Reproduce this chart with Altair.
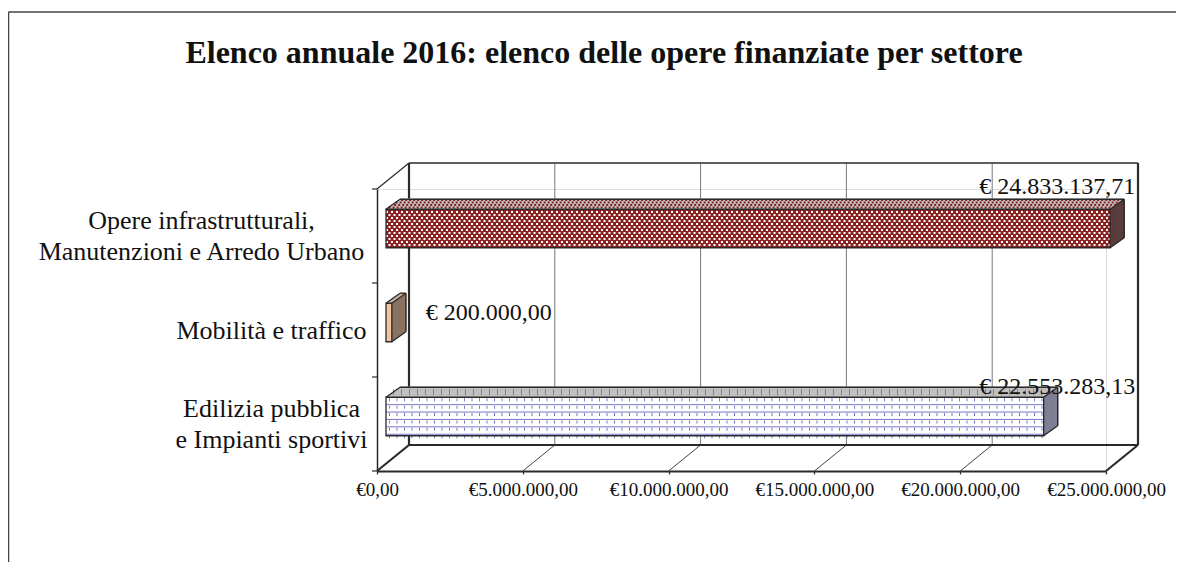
import json
import altair as alt
import pandas as pd

# ---------------- data ----------------
title_text = "Elenco annuale 2016: elenco delle opere finanziate per settore"
categories = [
    "Opere infrastrutturali,\nManutenzioni e Arredo Urbano",
    "Mobilità e traffico",
    "Edilizia pubblica\ne Impianti sportivi",
]
values = [24833137.71, 200000.00, 22553283.13]
value_labels = ["€ 24.833.137,71", "€ 200.000,00", "€ 22.553.283,13"]
tick_values = [0, 5000000, 10000000, 15000000, 20000000, 25000000]
tick_labels = ["€0,00", "€5.000.000,00", "€10.000.000,00",
               "€15.000.000,00", "€20.000.000,00", "€25.000.000,00"]

df = pd.DataFrame({
    "idx": list(range(len(categories))),
    "cat": categories,
    "value": values,
    "label": value_labels,
})
df["zero"] = 0.0
ticks_df = pd.DataFrame({"t": tick_values})
one_df = pd.DataFrame({"title": [title_text]})
bounds_df = pd.DataFrame({"idx": [i - 0.5 for i in range(len(categories) + 1)]})

# ---------------- styles / geometry (pixels) ----------------
FONT = "Liberation Serif"
W, H = 729, 282
BX, BY = 32, -26            # depth of the 3D box
FX, FYC, FH = 9, -7.5, 38.5 # bar front face offset / centre / thickness
TOP, BOT = FYC - FH / 2, FYC + FH / 2
DX, DY = 14, -10            # depth of each bar
N = 16
EDGE = "#2a2a2a"
front_fill = ["#8b2323", "#f4c3a0", "#ffffff"]
side_fill = ["#5a3c3c", "#8a7262", "#7e7e94"]
top_fill = ["#c0c0c0", "#c8b4a4", "#c0c0c0"]
PURPLE = "#7878c8"
LINE_H = 31

XS = alt.Scale(domain=[0, tick_values[-1]], nice=False, zero=False)
YS = alt.Scale(domain=[-0.5, len(categories) - 0.5], reverse=True, nice=False, zero=False)

X_AXIS = alt.Axis(
    values=tick_values,
    labelExpr=f"{json.dumps(tick_labels, ensure_ascii=False)}[indexof({json.dumps(tick_values)}, datum.value)]",
    grid=False, title=None, domainColor=EDGE, domainWidth=2.2, tickColor=EDGE, tickSize=3, tickWidth=1.2,
    labelFont=FONT, labelFontSize=19, labelColor="#111", labelPadding=6, labelFlush=False, labelOverlap=False,
)
y_lines = [c.split("\n") for c in categories]
multi_idx = [i for i, ln in enumerate(y_lines) if len(ln) > 1]
multi_test = " || ".join(f"datum.value == {i}" for i in multi_idx)
Y_AXIS = alt.Axis(
    values=list(range(len(categories))),
    labelExpr=f"{json.dumps(y_lines, ensure_ascii=False)}[datum.value]",
    grid=False, title=None, ticks=False, tickSize=0, domainColor=EDGE, domainWidth=1.5,
    labelFont=FONT, labelFontSize=26, labelColor="#111", labelAlign="center", labelBaseline="middle",
    labelLineHeight=LINE_H, labelLimit=500, labelOverlap=False,
    labelPadding={"condition": {"test": "datum.value == 0", "value": 176}, "value": 106},
    labelOffset={"condition": {"test": multi_test, "value": -LINE_H / 2}, "value": 0},
)


def xq(f):
    return alt.X(f"{f}:Q", scale=XS, axis=X_AXIS)


def yq():
    return alt.Y("idx:Q", scale=YS, axis=Y_AXIS)


def idx_color(rng):
    return alt.Color("idx:N", scale=alt.Scale(domain=list(range(len(categories))), range=rng), legend=None)


L = []

# ---------- outer frame ----------
L.append(alt.Chart(one_df).mark_rule(color="#444", strokeWidth=1.5).encode(
    x=alt.value(-368.5), y=alt.value(-177), y2=alt.value(400)))
L.append(alt.Chart(one_df).mark_rule(color="#444", strokeWidth=1.5).encode(
    x=alt.value(-368.5), x2=alt.value(W + 100), y=alt.value(-177)))

# ---------- title ----------
L.append(alt.Chart(one_df).mark_text(
    font=FONT, fontSize=32, fontWeight="bold", color="#111", align="center", baseline="alphabetic"
).encode(x=alt.value(227), y=alt.value(-126), text="title:N"))

# ---------- back wall & floor ----------
inner = f"datum.t > 0 && datum.t < {tick_values[-1]}"
outer = f"datum.t == 0 || datum.t == {tick_values[-1]}"
L.append(alt.Chart(ticks_df).transform_filter(inner).mark_rule(
    color="#777", strokeWidth=1, xOffset=BX).encode(x=xq("t"), y=alt.value(BY), y2=alt.value(H + BY)))
L.append(alt.Chart(ticks_df).transform_filter(inner).mark_rule(
    color="#444", strokeWidth=1, x2Offset=BX).encode(x=xq("t"), x2="t", y=alt.value(H), y2=alt.value(H + BY)))
L.append(alt.Chart(ticks_df).transform_filter(outer).mark_rule(
    color=EDGE, strokeWidth=2.2, xOffset=BX).encode(x=xq("t"), y=alt.value(BY), y2=alt.value(H + BY)))
L.append(alt.Chart(ticks_df).transform_filter(outer).mark_rule(
    color=EDGE, strokeWidth=2.2, x2Offset=BX).encode(x=xq("t"), x2="t", y=alt.value(H), y2=alt.value(H + BY)))
L.append(alt.Chart(one_df).mark_rule(color=EDGE, strokeWidth=1.5).encode(
    x=alt.value(BX), x2=alt.value(W + BX), y=alt.value(BY)))
L.append(alt.Chart(one_df).mark_rule(color=EDGE, strokeWidth=2.2).encode(
    x=alt.value(BX), x2=alt.value(W + BX), y=alt.value(H + BY)))
L.append(alt.Chart(one_df).mark_rule(color=EDGE, strokeWidth=1.2).encode(
    x=alt.value(0), x2=alt.value(BX), y=alt.value(0), y2=alt.value(BY)))

# category boundary ticks on the left
L.append(alt.Chart(bounds_df).mark_rule(color=EDGE, strokeWidth=1.2).encode(
    x=alt.value(-5), x2=alt.value(0), y=yq()))

# ---------- bars: top faces ----------
for k in range(N + 1):
    f = k / N
    ox, oy = FX + DX * f, TOP + DY * f
    L.append(alt.Chart(df).mark_rule(strokeWidth=1.6, xOffset=ox, x2Offset=ox, yOffset=oy).encode(
        x=xq("zero"), x2="value", y=yq(), color=idx_color(top_fill)))
# pattern on top faces
for j, k in enumerate([3, 7, 11, 15]):
    f = k / N
    ox, oy = FX + DX * f, TOP + DY * f
    L.append(alt.Chart(df).transform_filter("datum.idx == 0").mark_rule(
        color="#8b2323", strokeWidth=2, strokeDash=[2, 2], strokeDashOffset=2 * (j % 2),
        xOffset=ox, x2Offset=ox, yOffset=oy).encode(x=xq("zero"), x2="value", y=yq()))
f = 0.5
L.append(alt.Chart(df).transform_filter("datum.idx == 2").mark_rule(
    color=PURPLE, strokeWidth=6, strokeDash=[1, 7],
    xOffset=FX + DX * f, x2Offset=FX + DX * f, yOffset=TOP + DY * f).encode(x=xq("zero"), x2="value", y=yq()))

# ---------- bars: side faces ----------
for k in range(N + 1):
    f = k / N
    ox = FX + DX * f
    L.append(alt.Chart(df).mark_rule(strokeWidth=1.6, xOffset=ox, yOffset=TOP + DY * f, y2Offset=BOT + DY * f).encode(
        x=xq("value"), y=yq(), y2="idx", color=idx_color(side_fill)))

# ---------- bars: front faces ----------
L.append(alt.Chart(df).mark_rect(xOffset=FX, x2Offset=FX, yOffset=TOP, y2Offset=BOT).encode(
    x=xq("zero"), x2="value", y=yq(), y2="idx", color=idx_color(front_fill)))

# pattern: checker on the first bar
rows = int((FH - 2) // 3)
for r in range(rows):
    L.append(alt.Chart(df).transform_filter("datum.idx == 0").mark_rule(
        color="#ffffff", strokeWidth=2, strokeDash=[2, 3], strokeDashOffset=2.5 * (r % 2),
        xOffset=FX, x2Offset=FX, yOffset=TOP + 2.75 + 3 * r).encode(x=xq("zero"), x2="value", y=yq()))
# pattern: brick lines on the third bar
for r in range(6):
    yline = TOP + 7.4 * r
    if r > 0:
        L.append(alt.Chart(df).transform_filter("datum.idx == 2").mark_rule(
            color=PURPLE, strokeWidth=1, xOffset=FX, x2Offset=FX, yOffset=yline).encode(
            x=xq("zero"), x2="value", y=yq()))
    L.append(alt.Chart(df).transform_filter("datum.idx == 2").mark_rule(
        color=PURPLE, strokeWidth=3, strokeDash=[1, 6.5], strokeDashOffset=-3,
        xOffset=FX, x2Offset=FX, yOffset=yline + 2.5).encode(x=xq("zero"), x2="value", y=yq()))

# front face outline
L.append(alt.Chart(df).mark_rect(fillOpacity=0, stroke=EDGE, strokeWidth=1.3,
                                 xOffset=FX, x2Offset=FX, yOffset=TOP, y2Offset=BOT).encode(
    x=xq("zero"), x2="value", y=yq(), y2="idx"))

# depth edges
edge = dict(color=EDGE, strokeWidth=1.3)
L.append(alt.Chart(df).mark_rule(xOffset=FX, x2Offset=FX + DX, yOffset=TOP, y2Offset=TOP + DY, **edge).encode(
    x=xq("zero"), x2="zero", y=yq(), y2="idx"))
L.append(alt.Chart(df).mark_rule(xOffset=FX, x2Offset=FX + DX, yOffset=TOP, y2Offset=TOP + DY, **edge).encode(
    x=xq("value"), x2="value", y=yq(), y2="idx"))
L.append(alt.Chart(df).mark_rule(xOffset=FX, x2Offset=FX + DX, yOffset=BOT, y2Offset=BOT + DY, **edge).encode(
    x=xq("value"), x2="value", y=yq(), y2="idx"))
L.append(alt.Chart(df).mark_rule(xOffset=FX + DX, x2Offset=FX + DX, yOffset=TOP + DY, **edge).encode(
    x=xq("zero"), x2="value", y=yq()))
L.append(alt.Chart(df).mark_rule(xOffset=FX + DX, yOffset=TOP + DY, y2Offset=BOT + DY, **edge).encode(
    x=xq("value"), y=yq(), y2="idx"))

# ---------- value labels ----------
for i, dx, dy in [(0, -44, -42), (1, 106, -10), (2, 22.5, -30)]:
    L.append(alt.Chart(df).transform_filter(f"datum.idx == {i}").mark_text(
        font=FONT, fontSize=24, color="#111", align="center", baseline="alphabetic", dx=dx, dy=dy
    ).encode(x=xq("value"), y=yq(), text="label:N"))

chart = alt.layer(*L).resolve_scale(color="independent").properties(
    width=W, height=H,
    autosize=alt.AutoSizeParams(type="none"),
    padding={"left": 369, "top": 181, "right": 70, "bottom": 91},
).configure_view(stroke=None).configure(font=FONT, background="#ffffff")

chart.save("out.html", embed_options={"renderer": "svg", "actions": False})
